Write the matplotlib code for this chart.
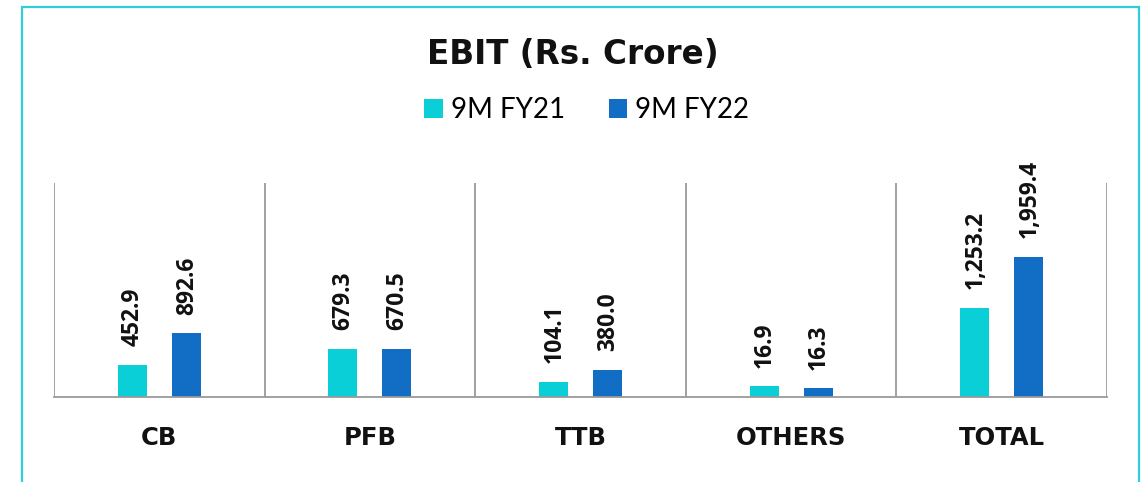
import matplotlib
matplotlib.use('Agg')
import matplotlib.pyplot as plt
import numpy as np
from matplotlib.patches import Rectangle

categories = ['CB', 'PFB', 'TTB', 'OTHERS', 'TOTAL']
series_names = ['9M FY21', '9M FY22']
# values printed on the bars
fy21 = [452.9, 679.3, 104.1, 16.9, 1253.2]
fy22 = [892.6, 670.5, 380.0, 16.3, 1959.4]
# bar heights as drawn in the source (the small bars are drawn taller than their labels)
fy21_drawn = [452.9, 679.3, 207.0, 150.0, 1253.2]
fy22_drawn = [892.6, 670.5, 380.0, 122.0, 1959.4]

c21 = '#0BCFD6'
c22 = '#116EC4'

plt.rcParams['font.family'] = ['DejaVu Sans']

fig = plt.figure(figsize=(11.46, 4.82), dpi=100)
ax = fig.add_axes([54 / 1146, 1 - 397 / 482, (1107 - 54) / 1146, (397 - 183) / 482])

# teal frame around the chart
fig.patches.append(Rectangle((22 / 1146, -0.1), (1139 - 22) / 1146, 1.1 - 7 / 482,
                             transform=fig.transFigure, fill=False,
                             edgecolor='#2ECFD8', linewidth=1.6))

x = np.arange(len(categories))
width = 0.138
off = 0.128
b1 = ax.bar(x - off, fy21_drawn, width, color=c21, label=series_names[0])
b2 = ax.bar(x + off, fy22_drawn, width, color=c22, label=series_names[1])

for rects, vals in ((b1, fy21), (b2, fy22)):
    for r, v in zip(rects, vals):
        ax.annotate(f'{v:,.1f}', (r.get_x() + r.get_width() / 2, r.get_height()),
                    xytext=(0.5, 13.5), textcoords='offset points',
                    rotation=90, ha='center', va='bottom',
                    fontsize=16.5, fontweight='bold', color='#111111',
                    family=['Open Sans', 'DejaVu Sans'])

ax.set_xlim(-0.5, len(categories) - 0.5)
ax.set_ylim(0, 3000)
ax.set_yticks([])
for b in np.arange(-0.5, len(categories), 1):
    ax.axvline(b, color='#9A9A9A', linewidth=1.3)
for s in ['top', 'right', 'left']:
    ax.spines[s].set_visible(False)
ax.spines['bottom'].set_color('#9A9A9A')
ax.spines['bottom'].set_linewidth(1.3)
ax.set_xticks(x, categories)
ax.tick_params(axis='x', length=0, pad=21)
for t in ax.get_xticklabels():
    t.set_fontsize(17.5)
    t.set_fontweight('bold')
    t.set_color('#111111')

fig.text(0.5, 1 - 54 / 482, 'EBIT (Rs. Crore)', ha='center', va='center',
         fontsize=23.5, fontweight='bold', color='#111111')
fig.legend(handles=[b1, b2], loc='center', bbox_to_anchor=(0.512, 1 - 110 / 482),
           ncols=2, frameon=False, prop={'family': ['Lato', 'DejaVu Sans'], 'size': 20},
           handlelength=0.65, handleheight=0.65, columnspacing=1.57, handletextpad=0.3)

fig.savefig('out.png', dpi=100)
